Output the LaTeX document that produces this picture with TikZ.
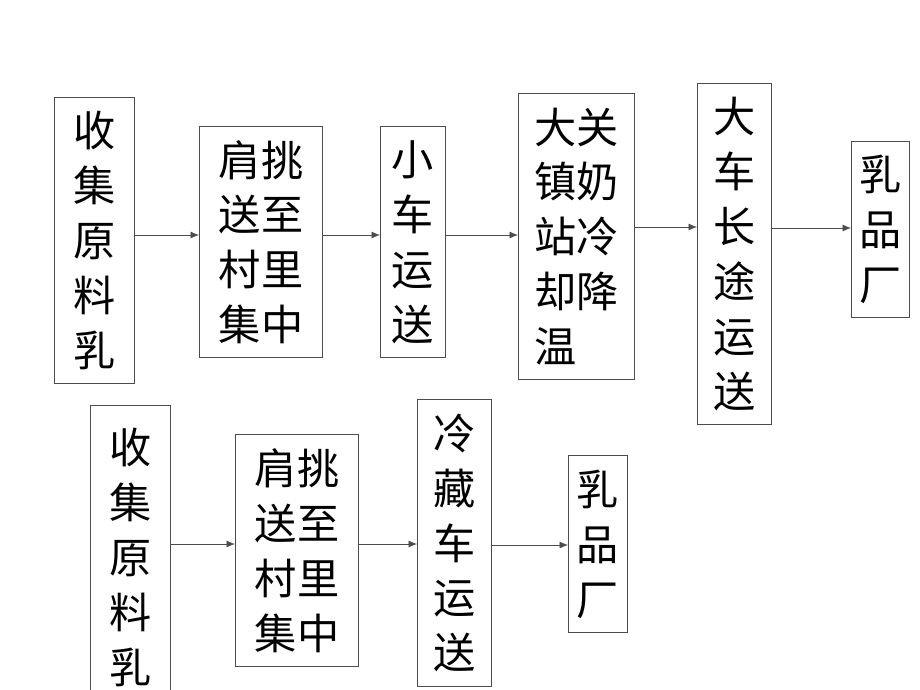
\documentclass[tikz,border=0pt]{standalone}
\usepackage{fontspec}
\newfontfamily\cjk{Noto Sans CJK SC}
\usetikzlibrary{arrows.meta}

\tikzset{
  stage/.style={draw=black!70, line width=0.6pt, inner sep=0pt, anchor=north west,
    align=left, font=\cjk\fontsize{30}{39}\selectfont},
  flow/.style={draw=black!70, line width=0.6pt, -{Latex[length=6pt,width=5pt]}}
}

\begin{document}
\begin{tikzpicture}[x=0.025cm, y=-0.025cm]
  \clip (0,0) rectangle (920,690);
  % first chain
    \node[stage, minimum width=2cm, minimum height=7.15cm] (a1) at (54,97) {收\\集\\原\\料\\乳};
    \node[stage, minimum width=3.08cm, minimum height=5.78cm] (b1) at (199,126) {肩挑\\送至\\村里\\集中};
    \node[stage, minimum width=1.63cm, minimum height=5.78cm] (c1) at (380,126) {小\\车\\运\\送};
    \node[stage, minimum width=2.9cm, minimum height=7.15cm] (d1) at (518,93) {大关\\镇奶\\站冷\\却降\\温};
    \node[stage, minimum width=1.85cm, minimum height=8.53cm] (e1) at (697,83) {大\\车\\长\\途\\运\\送};
    \node[stage, minimum width=1.45cm, minimum height=4.4cm] (f1) at (851,141) {乳\\品\\厂};
    \draw[flow] (a1.east |- 0,235) -- (b1.west |- 0,235);
    \draw[flow] (b1.east |- 0,235) -- (c1.west |- 0,235);
    \draw[flow] (c1.east |- 0,235) -- (d1.west |- 0,235);
    \draw[flow] (d1.east |- 0,227) -- (e1.west |- 0,227);
    \draw[flow] (e1.east |- 0,228) -- (f1.west |- 0,228);

  % second chain
    \node[stage, minimum width=2cm, minimum height=7.6cm] (a2) at (90,405) {收\\集\\原\\料\\乳};
    \node[stage, minimum width=3.08cm, minimum height=5.8cm] (b2) at (235,434) {肩挑\\送至\\村里\\集中};
    \node[stage, minimum width=1.85cm, minimum height=7.18cm] (c2) at (417,399) {冷\\藏\\车\\运\\送};
    \node[stage, minimum width=1.48cm, minimum height=4.43cm] (d2) at (568,455) {乳\\品\\厂};
    \draw[flow] (a2.east |- 0,544) -- (b2.west |- 0,544);
    \draw[flow] (b2.east |- 0,544) -- (c2.west |- 0,544);
    \draw[flow] (c2.east |- 0,545) -- (d2.west |- 0,545);
\end{tikzpicture}
\end{document}
